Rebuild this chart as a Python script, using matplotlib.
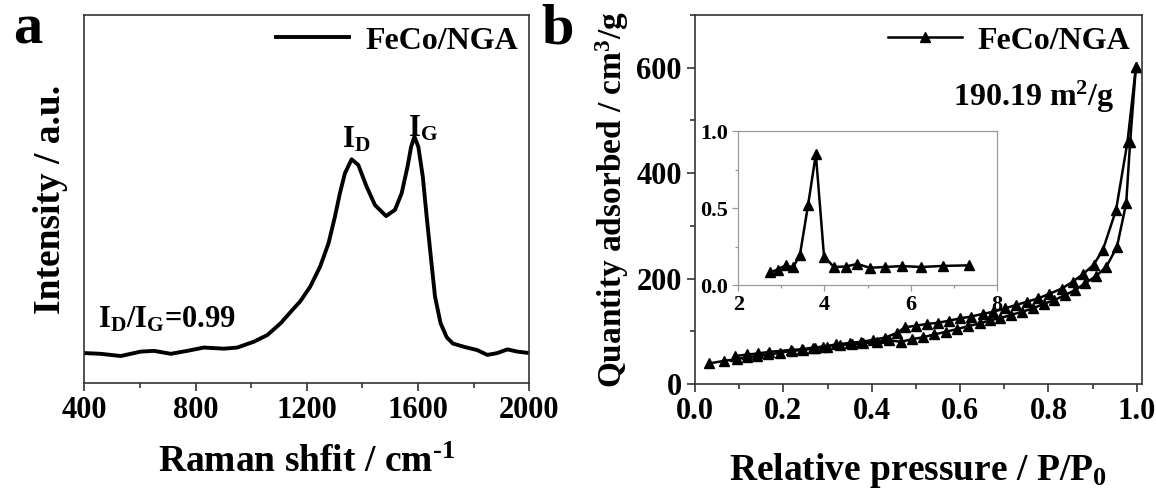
import matplotlib
matplotlib.use("Agg")
import matplotlib.pyplot as plt
from matplotlib.ticker import MultipleLocator

plt.rcParams['font.family'] = ['Liberation Serif', 'DejaVu Serif']
plt.rcParams['font.weight'] = 'bold'
plt.rcParams['axes.labelweight'] = 'bold'
plt.rcParams['mathtext.fontset'] = 'custom'
plt.rcParams['mathtext.rm'] = 'Liberation Serif:bold'
plt.rcParams['mathtext.bf'] = 'Liberation Serif:bold'
plt.rcParams['mathtext.it'] = 'Liberation Serif:bold'

# Raman spectrum (a), intensity in arbitrary units
raman_x = [400, 459, 531, 603, 651, 711, 770, 830, 902, 950, 1010, 1058, 1106,
           1154, 1176, 1212, 1248, 1278, 1301, 1319, 1337, 1361, 1385, 1415,
           1445, 1485, 1517, 1541, 1562, 1575, 1587, 1601, 1617, 1631, 1647,
           1661, 1681, 1703, 1725, 1765, 1813, 1849, 1885, 1921, 1957, 2000]
raman_y = [0.082, 0.080, 0.074, 0.086, 0.088, 0.080, 0.088, 0.097, 0.094, 0.097,
           0.113, 0.131, 0.163, 0.204, 0.222, 0.262, 0.317, 0.380, 0.452, 0.516,
           0.570, 0.608, 0.593, 0.534, 0.484, 0.454, 0.471, 0.516, 0.588, 0.642,
           0.670, 0.642, 0.561, 0.452, 0.335, 0.235, 0.163, 0.125, 0.108, 0.099,
           0.090, 0.077, 0.082, 0.092, 0.086, 0.082]

# N2 isotherm (b)
ads_p = [0.032, 0.066, 0.094, 0.117, 0.140, 0.166, 0.192, 0.219, 0.245, 0.272,
         0.298, 0.328, 0.355, 0.381, 0.411, 0.440, 0.466, 0.491, 0.515, 0.541,
         0.568, 0.592, 0.619, 0.645, 0.668, 0.691, 0.715, 0.740, 0.765, 0.789,
         0.813, 0.838, 0.860, 0.883, 0.908, 0.931, 0.955, 0.976, 0.985, 0.998]
ads_q = [39, 44, 47, 51, 53, 56, 59, 63, 64.5, 68, 71, 74, 75, 77, 80, 83, 80, 85,
         88.5, 94, 99, 104, 110, 115, 121, 125, 131, 137, 143.5, 152, 159, 169,
         178, 191, 205, 222.5, 260, 343, 460, 602]
des_p = [0.998, 0.979, 0.953, 0.923, 0.902, 0.879, 0.855, 0.830, 0.802, 0.777,
         0.751, 0.727, 0.702, 0.675, 0.651, 0.625, 0.600, 0.574, 0.549, 0.525,
         0.500, 0.475, 0.457, 0.430, 0.402, 0.375, 0.351, 0.319, 0.290, 0.266,
         0.242, 0.217, 0.168, 0.143, 0.118, 0.091]
des_q = [602, 460, 330, 254, 226, 209, 194, 181, 171, 162.5, 156, 150, 143.5, 137,
         133, 128, 124.5, 120, 116, 114, 110.6, 107.5, 97, 88, 83.5, 80, 78, 75,
         71, 69, 66, 64.5, 61, 58, 56, 53]

# pore size distribution (inset)
pore_d = [2.73, 2.91, 3.10, 3.27, 3.43, 3.62, 3.80, 3.99, 4.22, 4.49, 4.76, 5.05,
          5.41, 5.80, 6.25, 6.76, 7.36]
pore_v = [0.082, 0.100, 0.128, 0.114, 0.195, 0.52, 0.85, 0.185, 0.117, 0.120,
          0.137, 0.112, 0.117, 0.123, 0.117, 0.124, 0.128]

fig = plt.figure(figsize=(11.56, 4.95), dpi=100)

def style(ax, fs=22, spine='#333333', lw=1.2):
    for s in ax.spines.values():
        s.set_color(spine)
        s.set_linewidth(lw)
    ax.tick_params(which='both', direction='out', labelsize=fs, colors=spine,
                   labelcolor='black', width=lw)
    ax.tick_params(which='major', length=6)
    ax.tick_params(which='minor', length=3.5)

# ---- panel a ----
ax1 = fig.add_axes([0.0729, 0.2257, 0.385, 0.744])
ax1.plot(raman_x, raman_y, color='black', lw=2.8, label='FeCo/NGA',
         solid_joinstyle='round')
ax1.set_xlim(400, 2000)
ax1.set_ylim(0, 1)
ax1.set_yticks([])
ax1.xaxis.set_major_locator(MultipleLocator(400))
ax1.xaxis.set_minor_locator(MultipleLocator(200))
style(ax1)
ax1.set_xlabel(r'Raman shfit / cm$^{\text{-}1}$', fontsize=27, labelpad=14)
ax1.set_ylabel('Intensity / a.u.', fontsize=27, labelpad=12)
ax1.legend(loc='upper right', frameon=False, fontsize=23, handlelength=2.3,
           handletextpad=0.5, borderaxespad=0.05, borderpad=0.3)
ax1.text(1379, 0.66, r'I$_\mathrm{D}$', fontsize=22, ha='center', va='center')
ax1.text(1619, 0.69, r'I$_\mathrm{G}$', fontsize=22, ha='center', va='center')
ax1.text(450, 0.172, r'I$_\mathrm{D}$/I$_\mathrm{G}$=0.99', fontsize=22,
         ha='left', va='center')
fig.text(0.024, 0.94, 'a', fontsize=42, ha='center', va='center')

# ---- panel b ----
ax2 = fig.add_axes([0.6012, 0.2242, 0.3864, 0.7455])
ax2.plot(ads_p, ads_q, color='black', lw=1.8, marker='^', ms=6.5, label='FeCo/NGA')
ax2.plot(des_p, des_q, color='black', lw=1.8, marker='^', ms=6.5)
ax2.set_xlim(0, 1.011)
ax2.set_ylim(0, 700)
ax2.xaxis.set_major_locator(MultipleLocator(0.2))
ax2.xaxis.set_minor_locator(MultipleLocator(0.1))
ax2.yaxis.set_major_locator(MultipleLocator(200))
ax2.yaxis.set_minor_locator(MultipleLocator(100))
ax2.xaxis.set_major_formatter(plt.FormatStrFormatter('%.1f'))
style(ax2)
ax2.set_xlabel(r'Relative pressure / P/P$_\mathrm{0}$', fontsize=27, labelpad=18)
ax2.set_ylabel(r'Quantity adsorbed / cm$^\mathrm{3}$/g', fontsize=24, labelpad=4)
ax2.legend(loc='upper right', frameon=False, fontsize=23, handlelength=2.3,
           handletextpad=0.5, borderaxespad=0.05, borderpad=0.3, numpoints=1)
ax2.text(0.766, 544, r'190.19 m$^\mathrm{2}$/g', fontsize=23, ha='center', va='center')
fig.text(0.482, 0.94, 'b', fontsize=42, ha='center', va='center')

# ---- inset ----
ax3 = fig.add_axes([0.6387, 0.4242, 0.2235, 0.3111])
ax3.plot(pore_d, pore_v, color='black', lw=1.8, marker='^', ms=6.5)
ax3.set_xlim(2, 8)
ax3.set_ylim(0, 1)
ax3.xaxis.set_major_locator(MultipleLocator(2))
ax3.xaxis.set_minor_locator(MultipleLocator(1))
ax3.yaxis.set_major_locator(MultipleLocator(0.5))
ax3.yaxis.set_minor_locator(MultipleLocator(0.25))
ax3.yaxis.set_major_formatter(plt.FormatStrFormatter('%.1f'))
style(ax3, fs=16, spine='#999999', lw=0.9)
ax3.tick_params(which='major', length=4)
ax3.tick_params(which='minor', length=2.5)

fig.savefig('out.png', dpi=100)
